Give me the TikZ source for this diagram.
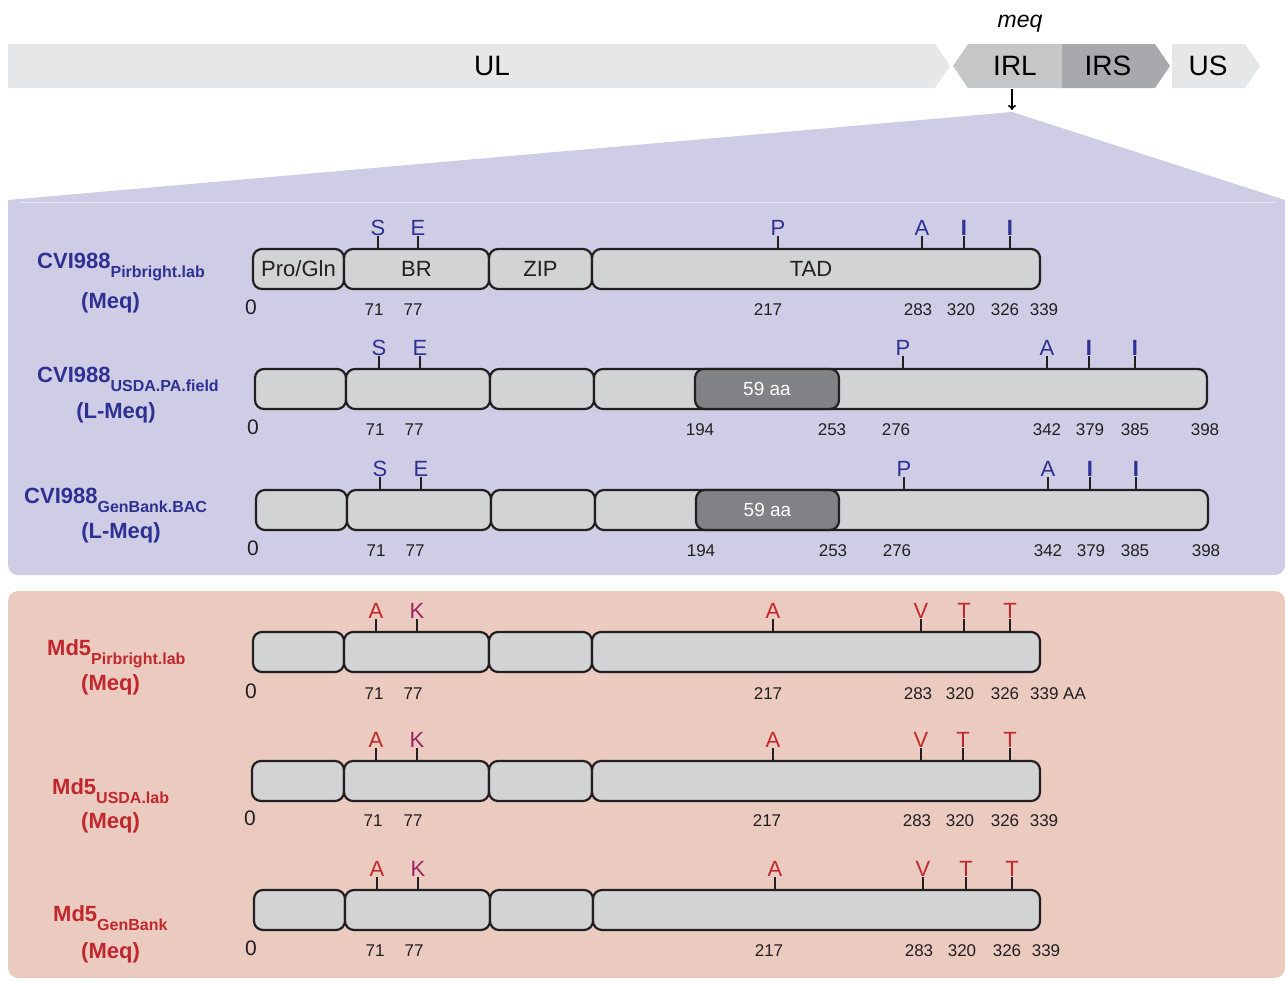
\documentclass[tikz,border=0pt]{standalone}
\usepackage{fontspec}
\setmainfont{Liberation Sans}
\usetikzlibrary{arrows.meta}
\definecolor{blueT}{HTML}{2E3192}
\definecolor{redT}{HTML}{C1272D}
\definecolor{magT}{HTML}{9E1F63}
\definecolor{purp}{HTML}{CFCDE6}
\definecolor{redp}{HTML}{EBCAC0}
\definecolor{boxg}{HTML}{D1D3D4}
\definecolor{darkg}{HTML}{808285}
\definecolor{ulc}{HTML}{E6E7E8}
\definecolor{irlc}{HTML}{C5C6C8}
\definecolor{irsc}{HTML}{A7A9AC}
\definecolor{ink}{HTML}{231F20}
\newcommand\fs[1]{\fontsize{#1}{#1}\selectfont}
\newcommand\domrow[7]{%
  \node[dom,minimum width={#4-#3}] (#1a) at ({(#3+#4)/2},{#2+20}) {};
  \node[dom,minimum width={#5-#4}] (#1b) at ({(#4+#5)/2},{#2+20}) {};
  \node[dom,minimum width={#6-#5}] (#1c) at ({(#5+#6)/2},{#2+20}) {};
  \node[dom,minimum width={#7-#6}] (#1d) at ({(#6+#7)/2},{#2+20}) {};
}
\newcommand\mut[5]{%
  \coordinate (#1t) at (#2,#3);
  \node[mutl,text=#5] (#1) at (#2,{#3-21}) {#4};
  \draw[tick] (#1t) -- (#1t|-#1.south);
}
\newcommand\lab[9]{%
  \node[labt,text=#9,anchor=base west] (#1) at (#2,#3) {#4\raisebox{-9pt}{\fs{16}#5}};
  \node[labt,text=#9,anchor=base] (#1m) at (#7,#8) {#6};
}
\begin{document}
\begin{tikzpicture}[x=1pt,y=-1pt,
  dom/.style={draw=ink,line width=2.2,fill=boxg,rounded corners=9,minimum height=40,inner sep=0,font=\fs{22},text=ink},
  darkbox/.style={dom,fill=darkg,text=white,font=\fs{19}},
  mutl/.style={inner sep=0,font=\fs{22}},
  tick/.style={draw=ink,line width=2},
  num/.style={inner sep=0,font=\fs{17},text=ink},
  zero/.style={inner sep=0,font=\fs{21},text=ink},
  labt/.style={inner sep=0,font=\bfseries\fs{22}},
  seg/.style={inner sep=0,font=\fs{28},text=black}]
\useasboundingbox (0,0) rectangle (1285,980);
% genome bar
\fill[ulc] (8,44) -- (935,44) -- (950,66) -- (935,88) -- (8,88) -- cycle;
\fill[irlc] (968,44) -- (1062,44) -- (1062,88) -- (968,88) -- (953,66) -- cycle;
\fill[irsc] (1062,44) -- (1155,44) -- (1170,66) -- (1155,88) -- (1062,88) -- cycle;
\fill[ulc] (1172,44) -- (1245,44) -- (1260,66) -- (1245,88) -- (1172,88) -- cycle;
\node[seg] (ul) at (492,66) {UL};
\node[seg] (irl) at (1015,66) {IRL};
\node[seg] (irs) at (1108,66) {IRS};
\node[seg] (us) at (1208,66) {US};
\node[inner sep=0,font=\itshape\fs{23},anchor=base] (meq) at (1020,27) {meq};
% funnel and panels
\coordinate (arrs) at (1012,89);
\coordinate (apex) at (1012,112);
\fill[purp] (apex) -- (1285,200) -- (1285,220) -- (8,220) -- (8,200) -- cycle;
\fill[purp,rounded corners=10] (8,202) rectangle (1285,575);
\draw[white!50!purp,line width=1] (20,202.5) -- (1275,202.5);
\fill[redp,rounded corners=10] (8,591) rectangle (1285,978);
\draw[line width=1.6,-{To[length=5,width=8]}] (arrs) -- (1012,110);
% ---------- row 1
\node[dom,minimum width=91] (r1a) at (298.5,269) {Pro/Gln};
\node[dom,minimum width=145] (r1b) at (416.5,269) {BR};
\node[dom,minimum width=103] (r1c) at (540.5,269) {ZIP};
\node[dom,minimum width=448] (r1d) at (816,269) {};
\node[inner sep=0,font=\fs{22},text=ink] (r1tad) at (811,269) {TAD};
\mut{r1m1}{378}{249}{S}{blueT}
\mut{r1m2}{418}{249}{E}{blueT}
\mut{r1m3}{778}{249}{P}{blueT}
\mut{r1m4}{922}{249}{A}{blueT}
\mut{r1m5}{964}{249}{\bfseries I}{blueT}
\mut{r1m6}{1010}{249}{\bfseries I}{blueT}
\node[zero] (r1z) at (251,307) {0};
\foreach[count=\i] \x/\t in {374/71,413/77,768/217,918/283,961/320,1005/326,1044/339}
  \node[num] (r1n\i) at (\x,310) {\t};
\lab{l1}{37}{268}{CVI988}{Pirbright.lab}{(Meq)}{110.5}{308}{blueT}
% ---------- row 2
\domrow{r2}{369}{255}{346}{490}{594}{1207}
\node[darkbox,minimum width=144] (r2x) at (767,389) {59 aa};
\mut{r2m1}{379}{369}{S}{blueT}
\mut{r2m2}{420}{369}{E}{blueT}
\mut{r2m3}{903}{369}{P}{blueT}
\mut{r2m4}{1047}{369}{A}{blueT}
\mut{r2m5}{1089}{369}{\bfseries I}{blueT}
\mut{r2m6}{1135}{369}{\bfseries I}{blueT}
\node[zero] (r2z) at (253,427) {0};
\foreach[count=\i] \x/\t in {375/71,414/77,700/194,832/253,896/276,1047/342,1090/379,1135/385,1205/398}
  \node[num] (r2n\i) at (\x,430) {\t};
\lab{l2}{37}{382}{CVI988}{USDA.PA.field}{(L-Meq)}{116}{418}{blueT}
% ---------- row 3
\domrow{r3}{490}{256}{347}{491}{595}{1208}
\node[darkbox,minimum width=143] (r3x) at (767.5,510) {59 aa};
\mut{r3m1}{380}{490}{S}{blueT}
\mut{r3m2}{421}{490}{E}{blueT}
\mut{r3m3}{904}{490}{P}{blueT}
\mut{r3m4}{1048}{490}{A}{blueT}
\mut{r3m5}{1090}{490}{\bfseries I}{blueT}
\mut{r3m6}{1136}{490}{\bfseries I}{blueT}
\node[zero] (r3z) at (253,548) {0};
\foreach[count=\i] \x/\t in {376/71,415/77,701/194,833/253,897/276,1048/342,1091/379,1135/385,1206/398}
  \node[num] (r3n\i) at (\x,551) {\t};
\lab{l3}{24}{503}{CVI988}{GenBank.BAC}{(L-Meq)}{121}{538}{blueT}
% ---------- row 4
\domrow{r4}{632}{253}{344}{489}{592}{1040}
\mut{r4m1}{376}{632}{A}{redT}
\mut{r4m2}{417}{632}{K}{magT}
\mut{r4m3}{773}{632}{A}{redT}
\mut{r4m4}{921}{632}{V}{redT}
\mut{r4m5}{964}{632}{T}{redT}
\mut{r4m6}{1010}{632}{T}{redT}
\node[zero] (r4z) at (251,691) {0};
\foreach[count=\i] \x/\t in {374/71,413/77,768/217,918/283,960/320,1005/326,1058/339 AA}
  \node[num] (r4n\i) at (\x,694) {\t};
\lab{l4}{47}{655}{Md5}{Pirbright.lab}{(Meq)}{110.5}{690}{redT}
% ---------- row 5
\domrow{r5}{761}{252}{344}{489}{592}{1040}
\mut{r5m1}{376}{761}{A}{redT}
\mut{r5m2}{417}{761}{K}{magT}
\mut{r5m3}{773}{761}{A}{redT}
\mut{r5m4}{921}{761}{V}{redT}
\mut{r5m5}{963}{761}{T}{redT}
\mut{r5m6}{1010}{761}{T}{redT}
\node[zero] (r5z) at (250,818) {0};
\foreach[count=\i] \x/\t in {373/71,413/77,767/217,917/283,960/320,1005/326,1044/339}
  \node[num] (r5n\i) at (\x,821) {\t};
\lab{l5}{52}{794}{Md5}{USDA.lab}{(Meq)}{110.5}{828}{redT}
% ---------- row 6
\domrow{r6}{890}{254}{345}{490}{593}{1040}
\mut{r6m1}{377}{890}{A}{redT}
\mut{r6m2}{418}{890}{K}{magT}
\mut{r6m3}{775}{890}{A}{redT}
\mut{r6m4}{923}{890}{V}{redT}
\mut{r6m5}{966}{890}{T}{redT}
\mut{r6m6}{1012}{890}{T}{redT}
\node[zero] (r6z) at (251,948) {0};
\foreach[count=\i] \x/\t in {375/71,414/77,769/217,919/283,962/320,1007/326,1046/339}
  \node[num] (r6n\i) at (\x,951) {\t};
\lab{l6}{53}{921}{Md5}{GenBank}{(Meq)}{110.5}{958}{redT}
\end{tikzpicture}
\end{document}
